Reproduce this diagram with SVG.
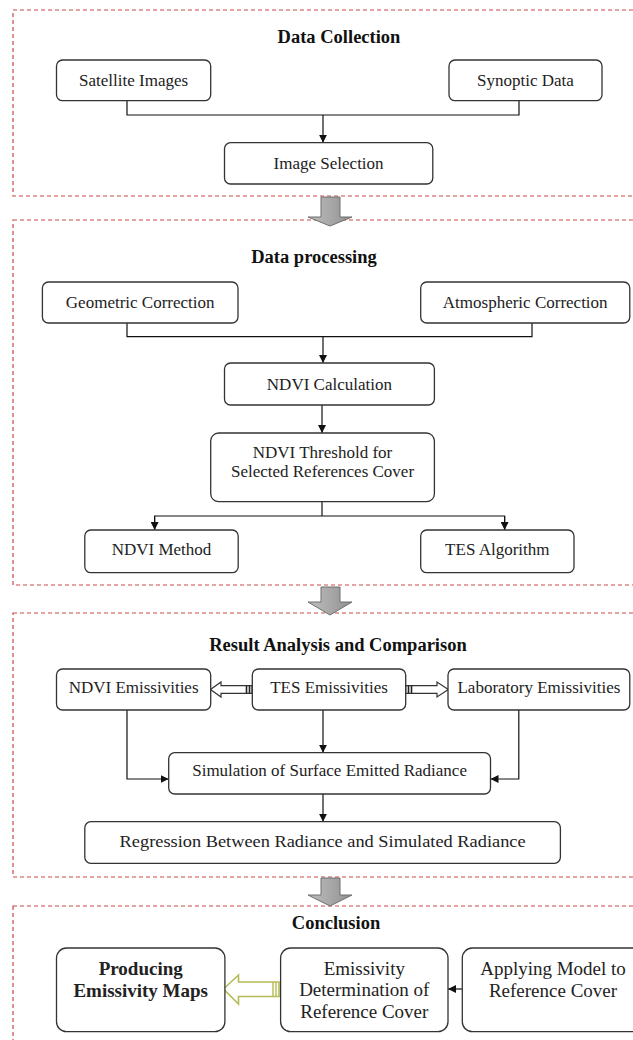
<svg xmlns="http://www.w3.org/2000/svg" width="633" height="1040" viewBox="0 0 633 1040">
<style>
.sec{fill:none;stroke:#cc4848;stroke-width:1.2;stroke-dasharray:4 3}
.box{fill:#fff;stroke:#333;stroke-width:1.3}
.t{font-family:"Liberation Serif","Times New Roman",serif;font-size:17px;fill:#222;text-anchor:middle;dominant-baseline:central}
.tl{font-size:19px}
.b{font-weight:bold}
.h{font-family:"Liberation Serif","Times New Roman",serif;font-size:18.5px;font-weight:bold;fill:#111;text-anchor:middle;dominant-baseline:central}
.ln{fill:none;stroke:#111;stroke-width:1.2}
.blk{fill:url(#gg);stroke:#6e6e6e;stroke-width:1}
.hol{fill:#fff;stroke:#333;stroke-width:1.2}
.grn{fill:#fff;stroke:#b5bc55;stroke-width:1.6}
</style>
<defs>
<marker id="ah" viewBox="0 0 10 10" refX="10" refY="5" markerWidth="8" markerHeight="8" markerUnits="userSpaceOnUse" orient="auto">
<path d="M0,0 L10,5 L0,10 z" fill="#111"/>
</marker>
<linearGradient id="gg" x1="0" y1="0" x2="1" y2="0">
<stop offset="0" stop-color="#bdbdbd"/>
<stop offset="0.5" stop-color="#a8a8a8"/>
<stop offset="1" stop-color="#8f8f8f"/>
</linearGradient>
</defs>

<g id="sections">
<rect class="sec" x="13" y="10" width="640" height="186"/>
<rect class="sec" x="13" y="220" width="640" height="365"/>
<rect class="sec" x="13" y="613" width="640" height="264"/>
<rect class="sec" x="13" y="906" width="640" height="160"/>
</g>

<g id="titles">
<text class="h" x="339" y="37">Data Collection</text>
<text class="h" x="314" y="257">Data processing</text>
<text class="h" x="338" y="645">Result Analysis and Comparison</text>
<text class="h" x="336" y="923">Conclusion</text>
</g>

<g id="connectors">
<path class="ln" d="M127,101 V115 H519 V101"/>
<path class="ln" d="M323,115 V142.7" marker-end="url(#ah)"/>
<path class="ln" d="M127,323 V336.7 H532 V323"/>
<path class="ln" d="M323,336.7 V363" marker-end="url(#ah)"/>
<path class="ln" d="M322,405 V433" marker-end="url(#ah)"/>
<path class="ln" d="M322,501.7 V516"/>
<path class="ln" d="M154.6,530 V516 H504.6 V530"/>
<path class="ln" d="M154.6,516 V530" marker-end="url(#ah)"/>
<path class="ln" d="M504.6,516 V530" marker-end="url(#ah)"/>
<path class="ln" d="M323,710 V752.7" marker-end="url(#ah)"/>
<path class="ln" d="M127,710 V779 H168.7" marker-end="url(#ah)"/>
<path class="ln" d="M518.8,710 V779 H490.5" marker-end="url(#ah)"/>
<path class="ln" d="M323,794 V821.7" marker-end="url(#ah)"/>
<path class="ln" d="M462.3,989 H448" marker-end="url(#ah)"/>
<path class="blk" d="M321,197 H340 V217 H352 L330,226 L308,217 H321 Z"/>
<path class="blk" d="M321,587 H340 V602 H352 L330,615 L308,602 H321 Z"/>
<path class="blk" d="M321,878 H340 V895 H352 L330,906 L308,895 H321 Z"/>
<path class="hol" d="M252,685.7 V693.3 H221 V697 L210.5,689.5 L221,682 V685.7 Z"/>
<path d="M246.5,685.7 V693.3 M249.5,685.7 V693.3" stroke="#222" stroke-width="1.6"/>
<path class="hol" d="M405.7,685.7 V693.3 H437 V697 L448.3,689.5 L437,682 V685.7 Z"/>
<path d="M408.5,685.7 V693.3 M411.5,685.7 V693.3" stroke="#222" stroke-width="1.6"/>
<path class="grn" d="M279,982 V996.5 H238.5 V1004 L223.5,989 L238.5,975 V982 Z"/>
<path d="M273,982 V996.5 M276,982 V996.5" stroke="#b5bc55" stroke-width="1.4"/>
</g>

<g id="n-satellite"><rect class="box" x="56.5" y="60" width="154.2" height="40.7" rx="6"/><text class="t" x="133.6" y="80.5">Satellite Images</text></g>
<g id="n-synoptic"><rect class="box" x="449" y="60" width="153" height="40.7" rx="6"/><text class="t" x="525.5" y="80.5">Synoptic Data</text></g>
<g id="n-imgsel"><rect class="box" x="224.5" y="142.7" width="208.3" height="41.3" rx="6"/><text class="t" x="328.6" y="163">Image Selection</text></g>

<g id="n-geo"><rect class="box" x="42.4" y="282" width="195.6" height="41" rx="6"/><text class="t" x="140.2" y="302">Geometric Correction</text></g>
<g id="n-atm"><rect class="box" x="420.7" y="282" width="209.1" height="41" rx="6"/><text class="t" x="525.2" y="302">Atmospheric Correction</text></g>
<g id="n-ndvicalc"><rect class="box" x="224.5" y="363" width="209.9" height="42" rx="6"/><text class="t" x="329.4" y="384">NDVI Calculation</text></g>
<g id="n-thresh"><rect class="box" x="210.7" y="433" width="223.7" height="68.7" rx="8"/><text class="t" x="322.5" y="452">NDVI Threshold for</text><text class="t" x="322.5" y="471">Selected References Cover</text></g>
<g id="n-ndvimethod"><rect class="box" x="84.8" y="530" width="153.4" height="42.7" rx="6"/><text class="t" x="161.5" y="549">NDVI Method</text></g>
<g id="n-tesalg"><rect class="box" x="420.7" y="530" width="153.3" height="42.7" rx="6"/><text class="t" x="497.3" y="549">TES Algorithm</text></g>

<g id="n-ndviem"><rect class="box" x="56.5" y="669" width="154.2" height="41" rx="6"/><text class="t" x="133.6" y="687">NDVI Emissivities</text></g>
<g id="n-tesem"><rect class="box" x="252.3" y="669" width="153.4" height="41" rx="6"/><text class="t" x="329" y="687">TES Emissivities</text></g>
<g id="n-labem"><rect class="box" x="448" y="669" width="181.8" height="41" rx="6"/><text class="t" x="538.9" y="687">Laboratory Emissivities</text></g>
<g id="n-sim"><rect class="box" x="168.7" y="752.7" width="321.8" height="41.3" rx="6"/><text class="t" x="329.6" y="770">Simulation of Surface Emitted Radiance</text></g>
<g id="n-reg"><rect class="box" x="84.8" y="821.7" width="475.6" height="41.6" rx="6"/><text class="t" x="322.6" y="841" textLength="406" lengthAdjust="spacingAndGlyphs">Regression Between Radiance and Simulated Radiance</text></g>

<g id="n-produce"><rect class="box" x="56.5" y="948" width="168.4" height="83.7" rx="10"/><text class="t tl b" x="140.7" y="968.5">Producing</text><text class="t tl b" x="140.7" y="990">Emissivity Maps</text></g>
<g id="n-emdet"><rect class="box" x="280.6" y="948" width="167.4" height="83.7" rx="10"/><text class="t tl" x="364.3" y="968">Emissivity</text><text class="t tl" x="364.3" y="989.5">Determination of</text><text class="t tl" x="364.3" y="1011">Reference Cover</text></g>
<g id="n-apply"><rect class="box" x="462.3" y="948" width="190" height="83.7" rx="10"/><text class="t tl" x="553" y="968">Applying Model to</text><text class="t tl" x="553" y="990">Reference Cover</text></g>
</svg>
